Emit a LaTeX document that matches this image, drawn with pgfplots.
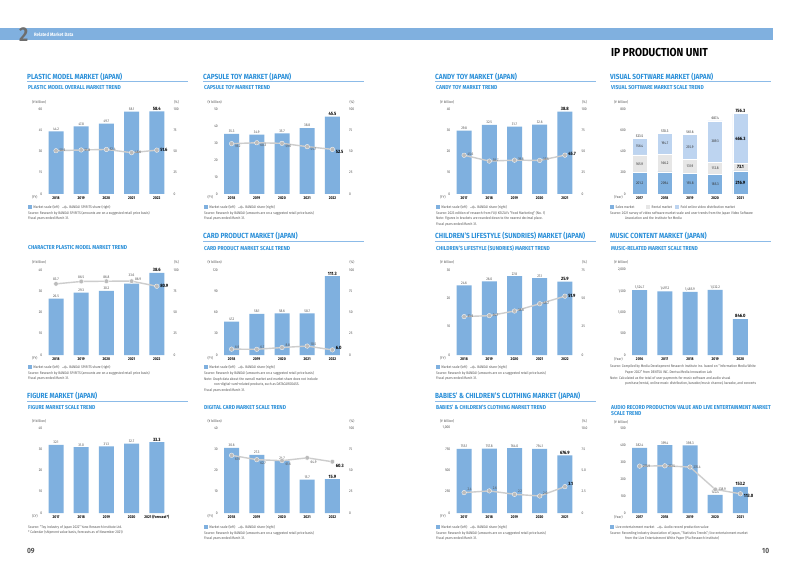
\documentclass[border=0pt]{standalone}
\usepackage{fontspec}
\setmainfont{Fira Sans}[FakeStretch=0.88]
\usepackage{pgfplots}
\usepackage{pgfplotstable}
\pgfplotsset{compat=1.18}

% ---------- colours ----------
\definecolor{barblue}{HTML}{7FB0DF}
\definecolor{hdrblue}{HTML}{80B0DF}
\definecolor{titleblue}{HTML}{2B90D9}
\definecolor{rulblue}{HTML}{8CBBE8}
\definecolor{linegray}{HTML}{CDCDCD}
\definecolor{markgray}{HTML}{BBBBBB}
\definecolor{paidblue}{HTML}{BDD4F0}
\definecolor{rentgray}{HTML}{E6E6E6}
\definecolor{txtgray}{HTML}{555555}
\definecolor{numgray}{HTML}{6E6E6E}

% ---------- font sizes ----------
\newcommand\tk{\fontsize{3.7}{4.2}\selectfont}
\newcommand\yr{\fontsize{3.9}{4.4}\selectfont\bfseries}
\newcommand\vl{\fontsize{3.7}{4.2}\selectfont}
\newcommand\vb{\fontsize{4.7}{5.2}\selectfont\bfseries}
\newcommand\src{\fontsize{3.65}{4.4}\selectfont}
\newcommand\ttl{\fontsize{7.4}{8}\selectfont\bfseries}
\newcommand\sub{\fontsize{5.7}{6}\selectfont\bfseries}

% ---------- data ----------
\pgfplotstableread{
x yr v s
0 2018 44.2 50.9
1 2019 47.8 51.8
2 2020 49.7 52.4
3 2021 58.1 48.6
4 2022 58.4 51.6
}\plasticTab
\pgfplotstableread{
x yr v s
0 2018 35.3 59.2
1 2019 34.9 60.3
2 2020 35.7 59.6
3 2021 38.8 55.7
4 2022 45.5 52.5
}\capsuleTab
\pgfplotstableread{
x yr v s
0 2017 29.8 45.6
1 2018 32.5 38.7
2 2019 31.7 39.8
3 2020 32.6 39.5
4 2021 38.8 45.7
}\candyTab
\pgfplotstableread{
x yr s r p t
0 2017 201.2 165.9 156.4 523.5
1 2018 209.4 166.2 194.7 570.3
2 2019 193.8 131.9 235.9 561.6
3 2020 185.3 112.8 389.3 687.4
4 2021 216.9 73.1 466.3 756.3
}\videoTab
\pgfplotstableread{
x yr v s
0 2018 26.5 83.7
1 2019 29.3 86.5
2 2020 30.2 86.8
3 2021 33.6 86.9
4 2022 38.6 80.9
}\charTab
\pgfplotstableread{
x yr v s
0 2018 47.2 6.9
1 2019 58.1 6.7
2 2020 58.6 8.8
3 2021 58.7 10.5
4 2022 111.3 6.0
}\cardTab
\pgfplotstableread{
x yr v s
0 2018 24.6 33.9
1 2019 26.0 34.7
2 2020 27.8 38.8
3 2021 27.1 45.2
4 2022 25.9 51.9
}\sundryTab
\pgfplotstableread{
x yr v
0 2016 1524.7
1 2017 1497.2
2 2018 1485.9
3 2019 1532.2
4 2020 846.0
}\musicTab
\pgfplotstableread{
x yr v
0 2017 32.1
1 2018 31.0
2 2019 31.3
3 2020 32.7
4 {2021 (Forecast*)} 33.3
}\figureTab
\pgfplotstableread{
x yr v s
0 2018 30.6 67.9
1 2019 27.3 62.7
2 2020 24.7 61.6
3 2021 15.7 64.9
4 2022 15.9 60.3
}\digitalTab
\pgfplotstableread{
x yr v s
0 2017 755.1 2.4
1 2018 757.8 2.6
2 2019 764.0 2.2
3 2020 754.1 2.0
4 2021 676.9 3.1
}\clothTab
\pgfplotstableread{
x yr v s
0 2017 382.4 275.9
1 2018 399.4 277.5
2 2019 398.3 270.4
3 2020 106.4 138.9
4 2021 153.2 113.0
}\audioTab

% ---------- styles ----------
\pgfplotsset{
  /pgf/number format/assume math mode=true,
  /pgf/number format/1000 sep={,},
  panel/.style={scale only axis, width=126pt, height=85pt,
    xmin=-0.5, xmax=4.5, ymin=0, clip=false, anchor=south west,
    axis line style={draw=none}, major tick length=0pt, xtick={0,...,4},
    scaled y ticks=false,
    yticklabel style={font=\tk, text=txtgray, inner sep=1pt},
    xticklabel style={font=\yr, text=black, inner sep=1pt, yshift=-1.2pt}},
  leftax/.style={panel, axis x line*=bottom, axis y line*=left},
  rightax/.style={panel, axis y line*=right, axis x line=none,
    yticklabel style={xshift=3pt}},
  bars/.style={ybar, bar width=15pt, bar shift=0pt, fill=barblue, draw=none},
  vlab/.style={draw=none, mark=none, forget plot, point meta=y,
    nodes near coords={\pgfmathprintnumber[fixed,fixed zerofill,precision=1]{\pgfplotspointmeta}},
    every node near coord/.style={font=\vl, text=txtgray, anchor=south, inner sep=0.8pt}},
  vlabB/.style={vlab,
    every node near coord/.style={font=\vb, text=black, anchor=south, inner sep=0.8pt}},
  slab/.style={vlab,
    every node near coord/.style={font=\vl, text=txtgray, anchor=west, inner sep=0.5pt, xshift=2.8pt}},
  slabB/.style={vlab,
    every node near coord/.style={font=\vb, text=black, anchor=west, inner sep=0.5pt, xshift=2.8pt}},
  shareline/.style={draw=linegray, line width=1.4pt, mark=*, mark size=2.3pt,
    mark options={fill=markgray, draw=white, line width=0.3pt}},
  clab/.style={draw=none, mark=none, forget plot, point meta=explicit,
    nodes near coords={\pgfmathprintnumber[fixed,fixed zerofill,precision=1]{\pgfplotspointmeta}},
    every node near coord/.style={font=\vl, text=black!80, anchor=center, inner sep=0pt}},
  clabB/.style={clab,
    every node near coord/.style={font=\vb, text=black, anchor=center, inner sep=0pt}},
}

% bar + share line panel
% #1 left x, #2 zero y, #3 table, #4/#5 left max/step, #6/#7 right max/step,
% #8 shift of share labels, #9 extra keys for the right axis
\newcommand{\BLpanel}[9]{%
  \begin{axis}[leftax, at={(#1pt,-#2pt)}, ymax=#4, ytick distance=#5,
      xticklabels from table={#3}{yr}]
    \addplot[bars] table[x=x,y=v]{#3};
    \addplot[vlab, skip coords between index={4}{5}] table[x=x,y=v]{#3};
    \addplot[vlabB, skip coords between index={0}{4}] table[x=x,y=v]{#3};
  \end{axis}
  \begin{axis}[rightax, at={(#1pt,-#2pt)}, ymax=#6, ytick distance=#7, #9]
    \addplot[shareline] table[x=x,y=s]{#3};
    \addplot[slab, every node near coord/.append style={yshift=#8},
      skip coords between index={4}{5}] table[x=x,y=s]{#3};
    \addplot[slabB, every node near coord/.append style={yshift=#8},
      skip coords between index={0}{4}] table[x=x,y=s]{#3};
  \end{axis}}

% bar-only panel: #1 left x, #2 zero y, #3 table, #4 max, #5 step
\newcommand{\Bpanel}[5]{%
  \begin{axis}[leftax, at={(#1pt,-#2pt)}, ymax=#4, ytick distance=#5,
      xticklabels from table={#3}{yr}]
    \addplot[bars] table[x=x,y=v]{#3};
    \addplot[vlab, skip coords between index={4}{5}] table[x=x,y=v]{#3};
    \addplot[vlabB, skip coords between index={0}{4}] table[x=x,y=v]{#3};
  \end{axis}}

% section title with rule: x, y, rule end, text
\newcommand{\Title}[4]{%
  \node[anchor=west, font=\ttl, text=titleblue, inner sep=0] at (#1,-#2) {#4};
  \draw[rulblue, line width=0.8pt] (#1,-#2-5.4) -- (#3,-#2-5.4);}
\newcommand{\Sub}[3]{%
  \node[anchor=west, font=\sub, text=titleblue, inner sep=0] at (#1,-#2) {#3};}
\newcommand{\Src}[3]{%
  \node[anchor=west, font=\src, text=txtgray, inner sep=0] at (#1,-#2) {#3};}
% unit captions: plot left x, top y, zero y, left unit, right unit, x unit
\newcommand{\Units}[6]{%
  \node[anchor=west, font=\src, text=txtgray, inner sep=0] at (#1-11.5,-#2+7) {#4};
  \node[anchor=west, font=\src, text=txtgray, inner sep=0] at (#1+130.5,-#2+7) {#5};
  \node[anchor=west, font=\src, text=txtgray, inner sep=0] at (#1-11.5,-#3-3) {#6};}
% legend: bars + share line
\newcommand{\LegBL}[3]{%
  \fill[barblue] (#1,-#2+1.9) rectangle ++(3.8,-3.8);
  \node[anchor=west, font=\src, text=txtgray, inner sep=0] (lg) at (#1+5.2,-#2) {Market scale (left)};
  \draw[linegray, line width=0.9pt] ([xshift=2.5pt]lg.east) -- ++(6,0);
  \fill[markgray] ([xshift=5.5pt]lg.east) circle (1.6pt);
  \node[anchor=west, font=\src, text=txtgray, inner sep=0] at ([xshift=9.5pt]lg.east) {#3};}

\begin{document}
\begin{tikzpicture}[x=1pt, y=1pt]
\useasboundingbox (0,0) rectangle (800,-569);
\fill[white] (0,0) rectangle (800,-569);

% ---------- page header ----------
\fill[hdrblue] (0,-28) rectangle (773,-40.5);
\node[anchor=west, inner sep=0, font=\fontsize{20}{20}\selectfont\bfseries, text=numgray] at (19,-34.5) {2};
\node[anchor=west, inner sep=0, font=\fontsize{4.8}{5}\selectfont\bfseries, text=white] at (34,-34.3) {Related Market Data};
\node[anchor=west, inner sep=0, font=\fontsize{11.6}{12}\selectfont\bfseries, text=black] at (611,-52.5) {IP PRODUCTION UNIT};
\node[anchor=west, inner sep=0, font=\fontsize{7.5}{8}\selectfont\bfseries, text=txtgray] at (27,-551) {09};
\node[anchor=west, inner sep=0, font=\fontsize{7.5}{8}\selectfont\bfseries, text=txtgray] at (762,-551) {10};

% ================= row 1 =================
% plastic models
\Title{27}{76.5}{188}{PLASTIC MODEL MARKET (JAPAN)}
\Sub{28}{88}{PLASTIC MODEL OVERALL MARKET TREND}
\Units{43.4}{109}{194}{(¥ billion)}{(\%)}{(FY)}
\BLpanel{43.4}{194}{\plasticTab}{60}{15}{100}{25}{0pt}{}
\LegBL{28}{207}{BANDAI SPIRITS share (right)}
\Src{28}{213}{Source: Research by BANDAI SPIRITS (amounts are on a suggested retail price basis)}
\Src{28}{218.5}{Fiscal years ended March 31.}

% capsule toys
\Title{203}{76.5}{364}{CAPSULE TOY MARKET (JAPAN)}
\Sub{204}{88}{CAPSULE TOY MARKET TREND}
\Units{219}{109}{194}{(¥ billion)}{(\%)}{(FY)}
\BLpanel{219}{194}{\capsuleTab}{50}{10}{100}{25}{-3pt}{}
\LegBL{204}{207}{BANDAI share (right)}
\Src{204}{213}{Source: Research by BANDAI (amounts are on a suggested retail price basis)}
\Src{204}{218.5}{Fiscal years ended March 31.}

% candy toys
\Title{435}{76.5}{596}{CANDY TOY MARKET (JAPAN)}
\Sub{436}{88}{CANDY TOY MARKET TREND}
\Units{451.5}{109}{194}{(¥ billion)}{(\%)}{(FY)}
\BLpanel{451.5}{194}{\candyTab}{40}{10}{100}{25}{1pt}{}
\LegBL{436}{207}{BANDAI share (right)}
\Src{436}{213}{Source: 2023 edition of research from FUJI KEIZAI's ``Food Marketing'' (No. 1)}
\Src{436}{218.5}{Note: Figures in brackets are rounded down to the nearest decimal place.}
\Src{436}{224}{Fiscal years ended March 31.}

% visual software
\Title{610}{76.5}{771}{VISUAL SOFTWARE MARKET (JAPAN)}
\Sub{611}{88}{VISUAL SOFTWARE MARKET SCALE TREND}
\node[anchor=west, font=\src, text=txtgray, inner sep=0] at (614,-102) {(¥ billion)};
\node[anchor=west, font=\src, text=txtgray, inner sep=0] at (614,-197) {(Year)};
\begin{axis}[leftax, at={(627pt,-194pt)}, ymax=800, ytick distance=200,
    xticklabels from table={\videoTab}{yr}, ybar stacked, bar width=15pt]
  \addplot[fill=barblue, draw=white, line width=0.5pt] table[x=x,y=s]{\videoTab};
  \addplot[fill=rentgray, draw=white, line width=0.5pt] table[x=x,y=r]{\videoTab};
  \addplot[fill=paidblue, draw=white, line width=0.5pt] table[x=x,y=p]{\videoTab};
\end{axis}
\begin{axis}[panel, hide axis, at={(627pt,-194pt)}, ymax=800]
  \addplot[clab, skip coords between index={4}{5}] table[x=x, y expr=\thisrow{s}/2, meta=s]{\videoTab};
  \addplot[clab, skip coords between index={4}{5}] table[x=x, y expr=\thisrow{s}+\thisrow{r}/2, meta=r]{\videoTab};
  \addplot[clab, skip coords between index={4}{5}] table[x=x, y expr=\thisrow{s}+\thisrow{r}+\thisrow{p}/2, meta=p]{\videoTab};
  \addplot[clab, every node near coord/.append style={anchor=south, inner sep=0.8pt},
    skip coords between index={4}{5}] table[x=x, y=t, meta=t]{\videoTab};
  \addplot[clabB, skip coords between index={0}{4}] table[x=x, y expr=\thisrow{s}/2, meta=s]{\videoTab};
  \addplot[clabB, skip coords between index={0}{4}] table[x=x, y expr=\thisrow{s}+\thisrow{r}/2, meta=r]{\videoTab};
  \addplot[clabB, skip coords between index={0}{4}] table[x=x, y expr=\thisrow{s}+\thisrow{r}+\thisrow{p}/2, meta=p]{\videoTab};
  \addplot[clabB, every node near coord/.append style={anchor=south, inner sep=0.8pt},
    skip coords between index={0}{4}] table[x=x, y=t, meta=t]{\videoTab};
\end{axis}
\fill[barblue] (610,-205.1) rectangle ++(3.8,-3.8);
\node[anchor=west, font=\src, text=txtgray, inner sep=0] at (615.5,-207) {Sales market};
\fill[rentgray] (646,-205.1) rectangle ++(3.8,-3.8);
\node[anchor=west, font=\src, text=txtgray, inner sep=0] at (651.5,-207) {Rental market};
\fill[paidblue] (675,-205.1) rectangle ++(3.8,-3.8);
\node[anchor=west, font=\src, text=txtgray, inner sep=0] at (680.5,-207) {Paid online video distribution market};
\Src{610}{213}{Source: 2021 survey of video software market scale and user trends from the Japan Video Software}
\Src{625}{218.5}{Association and the Institute for Media}

% ================= row 2 =================
% character plastic models
\Sub{28}{248}{CHARACTER PLASTIC MODEL MARKET TREND}
\Units{43.4}{269}{355}{(¥ billion)}{(\%)}{(FY)}
\begin{axis}[leftax, at={(43.4pt,-355pt)}, ymax=40, ytick distance=10,
    xticklabels from table={\charTab}{yr}]
  \addplot[bars] table[x=x,y=v]{\charTab};
  \addplot[vlab, skip coords between index={3}{5}] table[x=x,y=v]{\charTab};
  \addplot[vlab, every node near coord/.append style={yshift=6pt},
    skip coords between index={0}{3}, skip coords between index={4}{5}] table[x=x,y=v]{\charTab};
  \addplot[vlabB, skip coords between index={0}{4}] table[x=x,y=v]{\charTab};
\end{axis}
\begin{axis}[rightax, at={(43.4pt,-355pt)}, ymax=100, ytick distance=25]
  \addplot[shareline] table[x=x,y=s]{\charTab};
  \addplot[vlab, every node near coord/.append style={yshift=2pt},
    skip coords between index={3}{5}] table[x=x,y=s]{\charTab};
  \addplot[slab, every node near coord/.append style={yshift=2pt},
    skip coords between index={0}{3}, skip coords between index={4}{5}] table[x=x,y=s]{\charTab};
  \addplot[slabB, skip coords between index={0}{4}] table[x=x,y=s]{\charTab};
\end{axis}
\LegBL{28}{367}{BANDAI SPIRITS share (right)}
\Src{28}{373}{Source: Research by BANDAI SPIRITS (amounts are on a suggested retail price basis)}
\Src{28}{378.5}{Fiscal years ended March 31.}

% card products
\Title{203}{236}{364}{CARD PRODUCT MARKET (JAPAN)}
\Sub{204}{248.5}{CARD PRODUCT MARKET SCALE TREND}
\Units{219}{269}{355}{(¥ billion)}{(\%)}{(FY)}
\BLpanel{219}{355}{\cardTab}{120}{30}{100}{25}{2pt}{}
\LegBL{204}{367}{BANDAI share (right)}
\Src{204}{373}{Source: Research by BANDAI (amounts are on a suggested retail price basis)}
\Src{204}{379}{Note: Graph data about the overall market and market share does not include}
\Src{214}{384.5}{non-digital-card-related products, such as DATACARDDASS.}
\Src{204}{390.5}{Fiscal years ended March 31.}

% children's lifestyle sundries
\Title{435}{236}{596}{CHILDREN'S LIFESTYLE (SUNDRIES) MARKET (JAPAN)}
\Sub{436}{248.5}{CHILDREN'S LIFESTYLE (SUNDRIES) MARKET TREND}
\Units{451.5}{269}{355}{(¥ billion)}{(\%)}{(FY)}
\BLpanel{451.5}{355}{\sundryTab}{30}{10}{75}{25}{0.5pt}{}
\LegBL{436}{367}{BANDAI share (right)}
\Src{436}{373}{Source: Research by BANDAI (amounts are on a suggested retail price basis)}
\Src{436}{378.5}{Fiscal years ended March 31.}

% music content
\Title{610}{236}{771}{MUSIC CONTENT MARKET (JAPAN)}
\Sub{611}{248.5}{MUSIC-RELATED MARKET SCALE TREND}
\node[anchor=west, font=\src, text=txtgray, inner sep=0] at (614,-262) {(¥ billion)};
\node[anchor=west, font=\src, text=txtgray, inner sep=0] at (614,-359) {(Year)};
\Bpanel{627}{355}{\musicTab}{2000}{500}
\Src{610}{366.5}{Source: Compiled by Media Development Research Institute Inc. based on ``Information Media White}
\Src{625}{372}{Paper 2022'' from DENTSU INC. Dentsu Media Innovation Lab}
\Src{610}{378}{Note: Calculated as the total of user payments for music software and audio visual}
\Src{625}{383.5}{purchase/rental, online music distribution, karaoke/music channel, karaoke, and concerts}

% ================= row 3 =================
% figures
\Title{27}{396}{188}{FIGURE MARKET (JAPAN)}
\Sub{28}{407.5}{FIGURE MARKET SCALE TREND}
\Units{43.4}{428}{513}{(¥ billion)}{}{(CY)}
\Bpanel{43.4}{513}{\figureTab}{40}{10}
\Src{28}{527}{Source: ``Toy Industry of Japan 2022'' Yano Research Institute Ltd.}
\Src{28}{532.5}{* Calendar (shipment value basis, forecasts as of November 2021)}

% digital cards
\Sub{204}{407.5}{DIGITAL CARD MARKET SCALE TREND}
\Units{219}{428}{513}{(¥ billion)}{(\%)}{(FY)}
\BLpanel{219}{513}{\digitalTab}{40}{10}{100}{25}{-4pt}{}
\LegBL{204}{527}{BANDAI share (right)}
\Src{204}{533}{Source: Research by BANDAI (amounts are on a suggested retail price basis)}
\Src{204}{538.5}{Fiscal years ended March 31.}

% babies' and children's clothing
\Title{435}{396}{596}{BABIES' \& CHILDREN'S CLOTHING MARKET (JAPAN)}
\Sub{436}{407.5}{BABIES' \& CHILDREN'S CLOTHING MARKET TREND}
\Units{451.5}{428}{513}{(¥ billion)}{(\%)}{(FY)}
\BLpanel{451.5}{513}{\clothTab}{1000}{250}{10}{2.5}{3pt}{ytick={0,2.5,5,7.5,10}, yticklabels={0,2.5,5.0,7.5,10.0}}
\LegBL{436}{527}{BANDAI share (right)}
\Src{436}{533}{Source: Research by BANDAI (amounts are on a suggested retail price basis)}
\Src{436}{538.5}{Fiscal years ended March 31.}

% audio records and live entertainment
\Sub{611}{407.5}{AUDIO RECORD PRODUCTION VALUE AND LIVE ENTERTAINMENT MARKET}
\Sub{611}{414}{SCALE TREND}
\node[anchor=west, font=\src, text=txtgray, inner sep=0] at (614,-422) {(¥ billion)};
\node[anchor=west, font=\src, text=txtgray, inner sep=0] at (614,-517) {(Year)};
\begin{axis}[leftax, at={(627pt,-513pt)}, ymax=500, ytick distance=100,
    xticklabels from table={\audioTab}{yr}]
  \addplot[bars] table[x=x,y=v]{\audioTab};
  \addplot[vlab, skip coords between index={4}{5}] table[x=x,y=v]{\audioTab};
  \addplot[vlabB, skip coords between index={0}{4}] table[x=x,y=v]{\audioTab};
  \addplot[shareline] table[x=x,y=s]{\audioTab};
  \addplot[slab, skip coords between index={4}{5}] table[x=x,y=s]{\audioTab};
  \addplot[slabB, every node near coord/.append style={yshift=-2pt},
    skip coords between index={0}{4}] table[x=x,y=s]{\audioTab};
\end{axis}
\fill[barblue] (610,-525.1) rectangle ++(3.8,-3.8);
\node[anchor=west, font=\src, text=txtgray, inner sep=0] (la) at (615.5,-527) {Live entertainment market};
\draw[linegray, line width=0.9pt] ([xshift=2.5pt]la.east) -- ++(6,0);
\fill[markgray] ([xshift=5.5pt]la.east) circle (1.6pt);
\node[anchor=west, font=\src, text=txtgray, inner sep=0] at ([xshift=9.5pt]la.east) {Audio record production value};
\Src{610}{533}{Source: Recording Industry Association of Japan, ``Statistics Trends''; live entertainment market}
\Src{625}{538.5}{from the Live Entertainment White Paper (Pia Research Institute)}

\end{tikzpicture}
\end{document}
